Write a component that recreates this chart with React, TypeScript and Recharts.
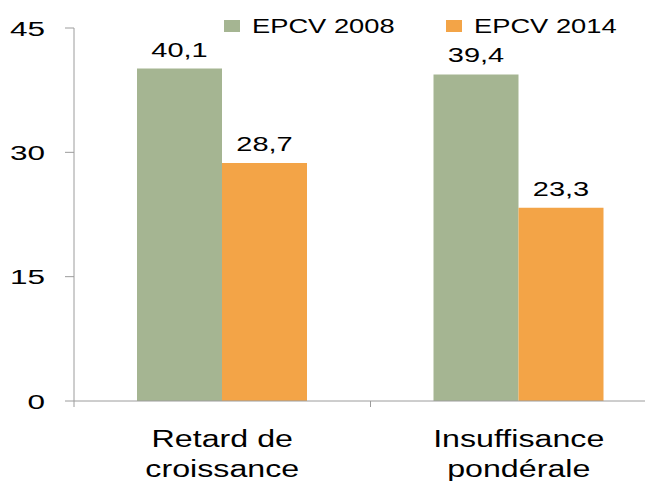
import React from "react";
import { BarChart, Bar, XAxis, YAxis, Legend, LabelList } from "recharts";

const categories = ["Retard de croissance", "Insuffisance pondérale"];
const series2008 = [40.1, 39.4];
const series2014 = [28.7, 23.3];
const seriesNames = ["EPCV 2008", "EPCV 2014"];
const seriesColors = ["#A5B592", "#F3A447"];
const yTicks = [0, 15, 30, 45];

const data = categories.map((name, i) => ({
  name,
  s2008: series2008[i],
  s2014: series2014[i],
}));

const FONT = "'Liberation Sans', Arial, sans-serif";
const AXIS_COLOR = "#9c9c9c";

const Stretch = ({ x, y, sx, anchor, size, children }: any) => (
  <g transform={`translate(${x},${y}) scale(${sx},1)`}>
    <text x={0} y={0} textAnchor={anchor} fontSize={size} fontFamily={FONT} fill="#000">
      {children}
    </text>
  </g>
);

const YTick = (props: any) => {
  const { x, y, payload } = props;
  return (
    <Stretch x={x} y={y + 7.5} sx={1.5} anchor="end" size={21}>
      {String(payload.value)}
    </Stretch>
  );
};

const XTick = (props: any) => {
  const { x, y, payload } = props;
  const label: string = String(payload.value);
  const cut = label.lastIndexOf(" ");
  const lines = [label.slice(0, cut), label.slice(cut + 1)];
  const off = payload.offset;
  return (
    <g>
      {typeof off === "number" && (
        <>
          <line x1={x - off} x2={x - off} y1={y} y2={y + 6} stroke={AXIS_COLOR} />
          <line x1={x + off} x2={x + off} y1={y} y2={y + 6} stroke={AXIS_COLOR} />
        </>
      )}
      {lines.map((l, i) => (
        <Stretch key={i} x={x} y={y + 46 + i * 30} sx={1.4} anchor="middle" size={23}>
          {l}
        </Stretch>
      ))}
    </g>
  );
};

const ValueLabel = (props: any) => {
  const { x, y, width, value } = props;
  return (
    <Stretch x={x + width / 2} y={y - 12} sx={1.45} anchor="middle" size={20}>
      {String(value).replace(".", ",")}
    </Stretch>
  );
};

const LegendContent = (props: any) => {
  const payload = props.payload || [];
  return (
    <svg width={440} height={36} style={{ display: "block", overflow: "visible" }}>
      {payload.map((p: any, i: number) => (
        <g key={i} transform={`translate(${i * 222},0)`}>
          <rect x={0} y={12} width={16} height={12} fill={p.color} />
          <Stretch x={28} y={25} sx={1.3} anchor="start" size={21}>
            {p.value}
          </Stretch>
        </g>
      ))}
    </svg>
  );
};

export default function App() {
  return (
    <div style={{ width: 645, height: 473, overflow: "hidden", position: "relative" }}>
      <BarChart
        width={670}
        height={473}
        data={data}
        margin={{ top: 20, right: 11, bottom: 0, left: 0 }}
        barGap={0}
      >
        <XAxis
          dataKey="name"
          height={80}
          axisLine={{ stroke: AXIS_COLOR }}
          tickLine={false}
          tickSize={0}
          tickMargin={0}
          tick={<XTick />}
          interval={0}
        />
        <YAxis
          width={66}
          domain={[0, 45]}
          ticks={yTicks}
          axisLine={{ stroke: AXIS_COLOR }}
          tickLine={{ stroke: AXIS_COLOR }}
          tickSize={9}
          tickMargin={20}
          tick={<YTick />}
          interval={0}
        />
        <Legend
          layout="horizontal"
          verticalAlign="middle"
          align="center"
          content={<LegendContent />}
          wrapperStyle={{ top: 0, left: 216, width: 440, height: 36 }}
        />
        <Bar dataKey="s2008" name={seriesNames[0]} fill={seriesColors[0]} barSize={85} isAnimationActive={false}>
          <LabelList dataKey="s2008" content={<ValueLabel />} />
        </Bar>
        <Bar dataKey="s2014" name={seriesNames[1]} fill={seriesColors[1]} barSize={85} isAnimationActive={false}>
          <LabelList dataKey="s2014" content={<ValueLabel />} />
        </Bar>
      </BarChart>
    </div>
  );
}
